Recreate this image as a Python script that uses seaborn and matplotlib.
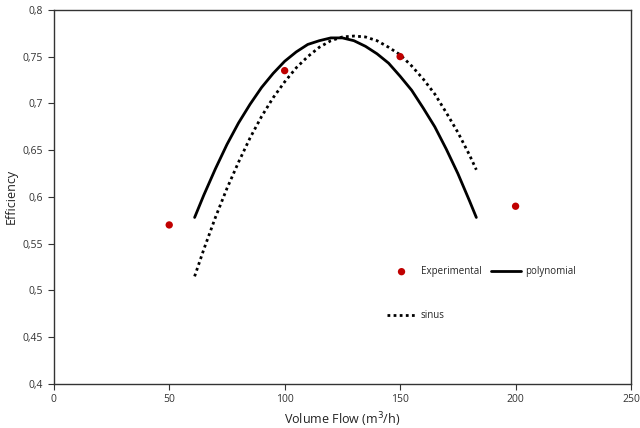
import pandas as pd
import matplotlib
matplotlib.use("Agg")
import matplotlib.pyplot as plt
import seaborn as sns
from matplotlib.ticker import FuncFormatter, MultipleLocator

# ==========================================
# 1) Data (read off the reference chart)
# ==========================================
exp_flow = [50, 100, 150, 200]
exp_eff = [0.570, 0.735, 0.750, 0.590]

poly_flow = [61, 65, 70, 75, 80, 85, 90, 95, 100, 105, 110, 115, 120, 125,
             130, 135, 140, 145, 150, 155, 160, 165, 170, 175, 180, 183]
poly_eff = [0.578, 0.602, 0.630, 0.656, 0.679, 0.699, 0.717, 0.732, 0.745,
            0.755, 0.763, 0.767, 0.770, 0.770, 0.767, 0.761, 0.753, 0.743,
            0.729, 0.714, 0.695, 0.675, 0.651, 0.625, 0.596, 0.578]

sin_flow = [61, 65, 70, 75, 80, 85, 90, 95, 100, 105, 110, 115, 120, 125,
            130, 135, 140, 145, 150, 155, 160, 165, 170, 175, 180, 183]
sin_eff = [0.515, 0.544, 0.578, 0.609, 0.637, 0.663, 0.686, 0.706, 0.723,
           0.738, 0.750, 0.760, 0.767, 0.771, 0.772, 0.771, 0.767, 0.760,
           0.752, 0.740, 0.726, 0.710, 0.690, 0.669, 0.645, 0.629]

exp_df = pd.DataFrame({"flow": exp_flow, "eff": exp_eff})
poly_df = pd.DataFrame({"flow": poly_flow, "eff": poly_eff})
sin_df = pd.DataFrame({"flow": sin_flow, "eff": sin_eff})

# ==========================================
# 2) Plot
# ==========================================
sns.set_style("white")
plt.rcParams["font.family"] = ["Open Sans", "DejaVu Sans"]

fig = plt.figure(figsize=(6.4, 4.28), dpi=100)
ax = fig.add_axes([0.084, 0.103, 0.902, 0.874])

sns.scatterplot(data=exp_df, x="flow", y="eff", ax=ax, color="#C00000",
                s=28, edgecolor="none", label="Experimental", zorder=3)
sns.lineplot(data=sin_df, x="flow", y="eff", ax=ax, color="black",
             linestyle=(0, (1, 1.2)), linewidth=2, label="sinus", sort=False)
sns.lineplot(data=poly_df, x="flow", y="eff", ax=ax, color="black",
             linewidth=2, label="polynomial", sort=False)

ax.set_xlim(0, 250)
ax.set_ylim(0.4, 0.8)
ax.xaxis.set_major_locator(MultipleLocator(50))
ax.yaxis.set_major_locator(MultipleLocator(0.05))
ax.yaxis.set_major_formatter(FuncFormatter(lambda v, p: f"{v:.2f}".rstrip("0").replace(".", ",")))

ax.set_xlabel("Volume Flow (m$^3$/h)", fontsize=9, color="#222222")
ax.set_ylabel("Efficiency", fontsize=9, color="#222222")
ax.tick_params(axis="both", labelsize=7.5, colors="#333333", direction="out",
               length=4, width=0.8, left=True, bottom=True)
for sp in ax.spines.values():
    sp.set_color("#333333")
    sp.set_linewidth(1.0)

handles, labels = ax.get_legend_handles_labels()
ax.legend(handles, labels, ncol=2, frameon=False, fontsize=7,
          loc="upper left", bbox_to_anchor=(0.562, 0.338),
          labelspacing=3.4, handlelength=3.0, columnspacing=1.0,
          handletextpad=0.5)

plt.savefig("out.png", dpi=100)
